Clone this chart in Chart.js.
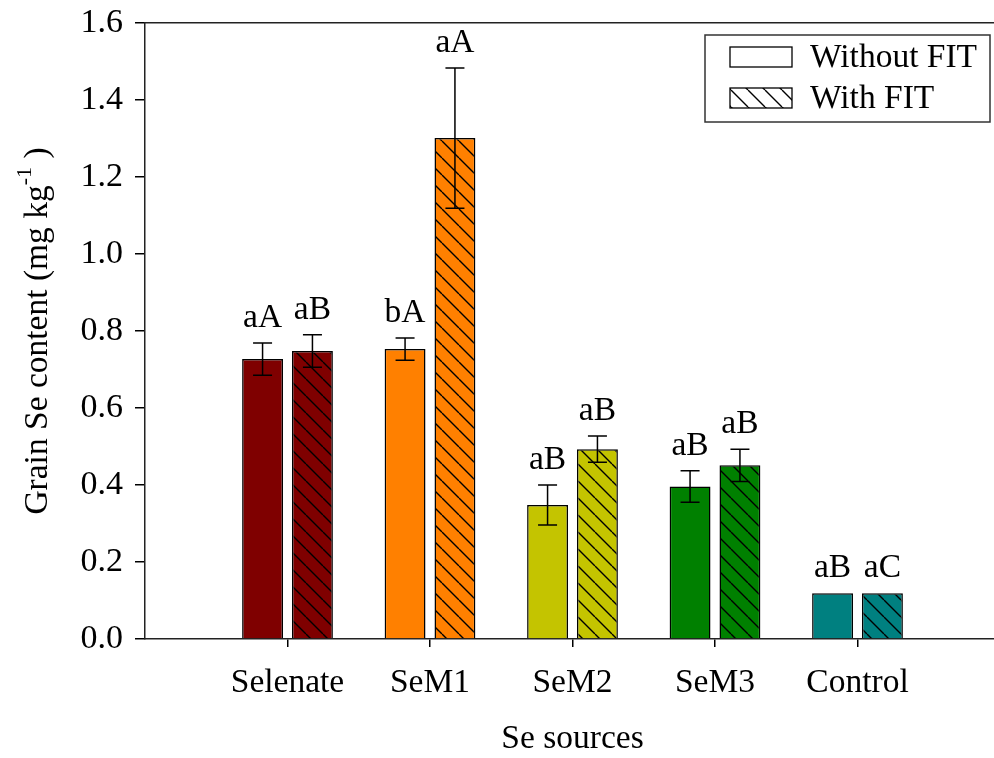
<!DOCTYPE html>
<html>
<head>
<meta charset="utf-8">
<script src="https://cdn.jsdelivr.net/npm/chart.js@4.4.0/dist/chart.umd.min.js"></script>
<style>
  html, body { margin: 0; padding: 0; background: #fff; overflow: hidden; }
  /* tick padding pushes the plot area in; shift the canvas so the frame sits where the figure has it */
  #canvas { position: absolute; left: 0; top: -12px; }
</style>
</head>
<body>
<canvas id="canvas" width="1016" height="771"></canvas>
<script>
// data
var sources = ['Selenate', 'SeM1', 'SeM2', 'SeM3', 'Control'];
var withoutFit = [0.727, 0.753, 0.348, 0.396, 0.119];
var withoutFitErr = [0.042, 0.029, 0.052, 0.041, 0];
var withFit = [0.748, 1.301, 0.493, 0.451, 0.119];
var withFitErr = [0.042, 0.182, 0.034, 0.042, 0];
var lettersWithout = ['aA', 'bA', 'aB', 'aB', 'aB'];
var lettersWith = ['aB', 'aA', 'aB', 'aB', 'aC'];
var barColors = ['#7f0000', '#ff8000', '#c4c400', '#008000', '#008080'];
var yTicks = [0, 0.2, 0.4, 0.6, 0.8, 1.0, 1.2, 1.4, 1.6];

var serif = "'Liberation Serif', 'Times New Roman', serif";
var canvas = document.getElementById('canvas');
var ctx = canvas.getContext('2d');

// empty slot at both ends, like the original axis
var labels = [''].concat(sources, ['']);
function pad(arr) { return [null].concat(arr, [null]); }

function hatch(color) {
    var s = 17;
    var c = document.createElement('canvas');
    c.width = s; c.height = s;
    var g = c.getContext('2d');
    if (color) { g.fillStyle = color; g.fillRect(0, 0, s, s); }
    g.strokeStyle = '#000';
    g.lineWidth = 1.4;
    g.beginPath();
    for (var k = -1; k <= 1; k++) {
        g.moveTo(k * s, 0);
        g.lineTo(k * s + s, s);
    }
    g.stroke();
    return ctx.createPattern(c, 'repeat');
}

var solidFills = pad(barColors);
var hatchFills = pad(barColors.map(hatch));

// error bars + letters
var errorBars = {
    id: 'errorBars',
    afterDatasetsDraw: function (chart) {
        var y = chart.scales.y;
        var c = chart.ctx;
        c.save();
        c.strokeStyle = '#000';
        c.lineWidth = 1.5;
        c.fillStyle = '#000';
        c.font = '33.5px ' + serif;
        c.textAlign = 'center';
        c.textBaseline = 'alphabetic';
        chart.data.datasets.forEach(function (ds, di) {
            var meta = chart.getDatasetMeta(di);
            meta.data.forEach(function (bar, i) {
                var v = ds.data[i];
                if (v === null) return;
                var e = ds.errors[i];
                var top = y.getPixelForValue(v + e);
                if (e > 0) {
                    var bot = y.getPixelForValue(v - e);
                    c.beginPath();
                    c.moveTo(bar.x, top); c.lineTo(bar.x, bot);
                    c.moveTo(bar.x - 9.5, top); c.lineTo(bar.x + 9.5, top);
                    c.moveTo(bar.x - 9.5, bot); c.lineTo(bar.x + 9.5, bot);
                    c.stroke();
                }
                c.fillText(ds.letters[i], bar.x, top - 16);
            });
        });
        c.restore();
    }
};

// y title with superscript
var yTitle = {
    id: 'yTitle',
    afterDraw: function (chart) {
        var a = chart.chartArea;
        var c = chart.ctx;
        var main = 'Grain Se content (mg kg';
        var sup = '-1';
        var tail = ' )';
        c.save();
        c.fillStyle = '#000';
        c.textBaseline = 'middle';
        c.textAlign = 'left';
        c.font = '33.5px ' + serif;
        var w1 = c.measureText(main).width;
        var w3 = c.measureText(tail).width;
        c.font = '22px ' + serif;
        var w2 = c.measureText(sup).width;
        var total = w1 + w2 + w3;
        c.translate(38, (a.top + a.bottom) / 2);
        c.rotate(-Math.PI / 2);
        var x = -total / 2;
        c.font = '33.5px ' + serif;
        c.fillText(main, x, 0);
        c.font = '22px ' + serif;
        c.fillText(sup, x + w1, -13);
        c.font = '33.5px ' + serif;
        c.fillText(tail, x + w1 + w2, 0);
        c.restore();
    }
};

// boxed legend at top right (screen coords + canvas shift)
var boxLegend = {
    id: 'boxLegend',
    afterDraw: function (chart) {
        var c = chart.ctx;
        var dy = 12;
        var items = [
            { text: 'Without FIT', fill: '#fff' },
            { text: 'With FIT', fill: hatch('#fff') }
        ];
        c.save();
        c.strokeStyle = '#333';
        c.lineWidth = 1.5;
        c.fillStyle = '#fff';
        c.fillRect(705, 35 + dy, 285, 87);
        c.strokeRect(705, 35 + dy, 285, 87);
        c.font = '33.5px ' + serif;
        c.textBaseline = 'alphabetic';
        items.forEach(function (it, i) {
            var y0 = 47 + dy + i * 41;
            c.fillStyle = it.fill;
            c.fillRect(730, y0, 62, 20);
            c.strokeStyle = '#000';
            c.lineWidth = 1.3;
            c.strokeRect(730, y0, 62, 20);
            c.fillStyle = '#000';
            c.fillText(it.text, 810, y0 + 20);
        });
        c.restore();
    }
};

var textFont = { family: serif, size: 33.5 };
var yTickFont = { family: serif, size: 34 };

var myChart = new Chart(canvas, {
    type: 'bar',
    data: {
        labels: labels,
        datasets: [{
            label: 'Without FIT',
            data: pad(withoutFit),
            errors: pad(withoutFitErr),
            letters: pad(lettersWithout),
            backgroundColor: solidFills,
            borderColor: '#000',
            borderWidth: 1.5,
            categoryPercentage: 0.70,
            barPercentage: 0.82
        }, {
            label: 'With FIT',
            data: pad(withFit),
            errors: pad(withFitErr),
            letters: pad(lettersWith),
            backgroundColor: hatchFills,
            borderColor: '#000',
            borderWidth: 1.5,
            categoryPercentage: 0.70,
            barPercentage: 0.82
        }]
    },
    options: {
        responsive: false,
        animation: false,
        layout: { padding: { top: 35, right: 0, left: 0, bottom: 0 } },
        plugins: {
            legend: { display: false },
            tooltip: { enabled: false }
        },
        scales: {
            x: {
                offset: false,
                grid: {
                    offset: false,
                    drawOnChartArea: false,
                    tickLength: 8,
                    lineWidth: 1.5,
                    color: function (c) { return labels[c.index] ? '#000' : 'rgba(0,0,0,0)'; }
                },
                border: { color: '#222', width: 1.5 },
                ticks: { font: textFont, color: '#000', padding: 16, maxRotation: 0, autoSkip: false },
                title: {
                    display: true,
                    text: 'Se sources',
                    font: textFont,
                    color: '#000',
                    padding: { top: 0, bottom: 0 }
                },
                afterFit: function (s) { s.height = 120; }
            },
            x2: {
                position: 'top',
                type: 'category',
                offset: false,
                grid: { display: false },
                ticks: { display: false },
                border: { color: '#222', width: 1.5 },
                afterFit: function (s) { s.height = 0; }
            },
            y: {
                min: 0,
                max: 1.6,
                afterBuildTicks: function (s) {
                    s.ticks = yTicks.map(function (v) { return { value: v }; });
                },
                grid: { drawOnChartArea: false, tickLength: 10, color: '#000', lineWidth: 1.5 },
                border: { color: '#222', width: 1.5 },
                ticks: {
                    font: yTickFont,
                    color: '#000',
                    padding: 12,
                    callback: function (v) { return Number(v).toFixed(1); }
                },
                afterFit: function (s) { s.width = 145; }
            }
        }
    },
    plugins: [errorBars, yTitle, boxLegend]
});
</script>
</body>
</html>
